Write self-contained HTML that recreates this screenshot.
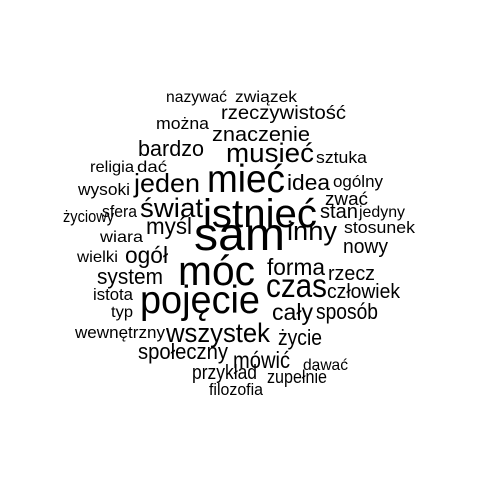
<!DOCTYPE html>
<html><head><meta charset="utf-8"><style>html,body{margin:0;padding:0;background:#fff}svg{display:block}text{font-family:"Liberation Sans",Arial,sans-serif;fill:#000}</style></head>
<body>
<svg id="cloud" width="480" height="480" viewBox="0 0 480 480" xmlns="http://www.w3.org/2000/svg"></svg>
<script>
const words = ["nazywać","związek","rzeczywistość","można","znaczenie","bardzo","musieć","sztuka","religia","dać","mieć","idea","ogólny","wysoki","jeden","zwać","świat","istnieć","sfera","stan","jedyny","życiowy","stosunek","myśl","wiara","sam","inny","nowy","wielki","ogół","forma","móc","rzecz","system","czas","człowiek","istota","pojęcie","typ","cały","sposób","wewnętrzny","wszystek","życie","społeczny","mówić","dawać","przykład","zupełnie","filozofia"];
const sizes = [16,16,19,17,20,22,27,17,16,16,39,22,17,17,26,18,27,40,17,20,16,17,17,23,16,46,27,20,16,23,23,42,20,22,33,20,17,39,16,23,22,17,27,22,22,23,16,20,18,17];
const lefts = [166,235,221,156,212,138,226,316,90,137,207,287,333,78,134,325,140,203,102,320,359,63,344,146,100,194,287,343,77,125,267,178,328,97,266,327,93,140,111,272,316,75,166,278,138,233,303,192,267,209];
const rights = [227,297,346,209,310,204,314,367,134,167,285,330,383,130,200,368,203,317,137,358,405,114,415,192,143,285,337,388,118,168,325,255,375,163,327,400,133,260,133,313,378,165,270,322,228,290,348,257,327,263];
const baselines = [102,102,119,129,141,156,162,163,172,172,192,190,187,195,192,205,217,227,217,218,217,222,233,234,242,250,240,253,262,263,275,285,280,284,297,298,300,313,317,320,319,338,342,345,359,368,370,379,383,395];
const svg = document.getElementById('cloud');
words.forEach((w, i) => {
  const t = document.createElementNS('http://www.w3.org/2000/svg', 'text');
  
  
  t.setAttribute('x', lefts[i]);
  t.setAttribute('y', baselines[i]);
  t.setAttribute('font-size', sizes[i]);
  t.setAttribute('textLength', rights[i] - lefts[i]);
  t.setAttribute('lengthAdjust', 'spacingAndGlyphs');
  t.textContent = w;
  svg.appendChild(t);
});
</script>
</body></html>
